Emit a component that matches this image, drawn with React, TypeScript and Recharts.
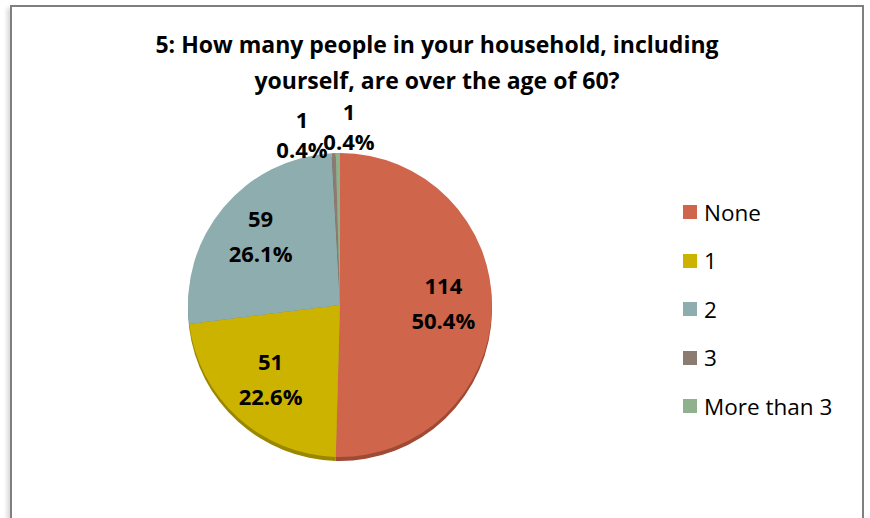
import { PieChart, Pie, Cell, Legend } from 'recharts';

const categories = ['None', '1', '2', '3', 'More than 3'];
const counts = [114, 51, 59, 1, 1];
const percents = ['50.4%', '22.6%', '26.1%', '0.4%', '0.4%'];
const colors = ['#CF654A', '#CCB300', '#8EADAF', '#8B7B70', '#8FB18D'];
const edgeColors = ['#9E4A35', '#9A8700', '#6A8386', '#6A5C53', '#6B8869'];

const title = ['5: How many people in your household, including', 'yourself, are over the age of 60?'];

const FONT = '"Open Sans", Lato, sans-serif';
const TOTAL = counts.reduce((a, b) => a + b, 0);

const chartData = categories.map((name, i) => ({
  name,
  value: counts[i],
  pct: percents[i],
}));

const RAD = Math.PI / 180;

function renderLabel(props: any) {
  const { cx, cy, midAngle, outerRadius, index } = props;
  const d = chartData[index];
  let x = cx + outerRadius * 0.68 * Math.cos(-midAngle * RAD);
  let y = cy + outerRadius * 0.68 * Math.sin(-midAngle * RAD);
  let up = 21;
  let down = 14;
  if (d.value / TOTAL < 0.05) {
    // tiny slices: Excel pushes these above the pie, side by side
    x = cx + (index === 3 ? -38 : 9);
    y = cy - outerRadius - (index === 3 ? 19 : 27);
    up = 15;
    down = 15;
  }
  const style = { fontFamily: FONT, fontWeight: 700, fontSize: 22 };
  return (
    <g>
      <text x={x} y={y - up} textAnchor="middle" dominantBaseline="central" fill="#000" style={style}>
        {d.value}
      </text>
      <text x={x} y={y + down} textAnchor="middle" dominantBaseline="central" fill="#000" style={style}>
        {d.pct}
      </text>
    </g>
  );
}

function LegendContent() {
  return (
    <div style={{ fontFamily: FONT }}>
      {chartData.map((d, i) => (
        <div key={d.name} style={{ display: 'flex', alignItems: 'center', height: 48.5 }}>
          <span style={{ width: 14, height: 14, backgroundColor: colors[i], marginRight: 7 }} />
          <span style={{ fontSize: 22.5, color: '#000' }}>{d.name}</span>
        </div>
      ))}
    </div>
  );
}

export default function App() {
  return (
    <div style={{ position: 'absolute', left: 0, top: 0, width: 870, height: 518, background: '#fff', overflow: 'hidden' }}>
      <div
        style={{
          position: 'absolute',
          left: 10,
          top: 5,
          width: 850,
          height: 512,
          border: '2px solid #7f7f7f',
          boxShadow: '-3px 3px 4px rgba(0,0,0,0.15)',
        }}
      />
      <div
        style={{
          position: 'absolute',
          left: 10,
          top: 26,
          width: 854,
          textAlign: 'center',
          fontFamily: FONT,
          fontWeight: 700,
          fontSize: 23,
          lineHeight: '36px',
          color: '#000',
        }}
      >
        {title.map((t) => (
          <div key={t}>{t}</div>
        ))}
      </div>
      <div style={{ position: 'absolute', left: 0, top: 0 }}>
        <PieChart width={870} height={518} margin={{ top: 0, right: 0, bottom: 0, left: 0 }}>
          <Pie
            data={chartData}
            dataKey="value"
            nameKey="name"
            cx={340}
            cy={309}
            outerRadius={152}
            startAngle={90}
            endAngle={-270}
            stroke="none"
            isAnimationActive={false}
            legendType="none"
          >
            {chartData.map((d, i) => (
              <Cell key={d.name} fill={edgeColors[i]} />
            ))}
          </Pie>
          <Pie
            data={chartData}
            dataKey="value"
            nameKey="name"
            cx={340}
            cy={305}
            outerRadius={152}
            startAngle={90}
            endAngle={-270}
            stroke="none"
            label={renderLabel}
            labelLine={false}
            isAnimationActive={false}
          >
            {chartData.map((d, i) => (
              <Cell key={d.name} fill={colors[i]} />
            ))}
          </Pie>
          <Legend
            layout="vertical"
            content={<LegendContent />}
            wrapperStyle={{ position: 'absolute', left: 683, top: 188, width: 180 }}
          />
        </PieChart>
      </div>
    </div>
  );
}
